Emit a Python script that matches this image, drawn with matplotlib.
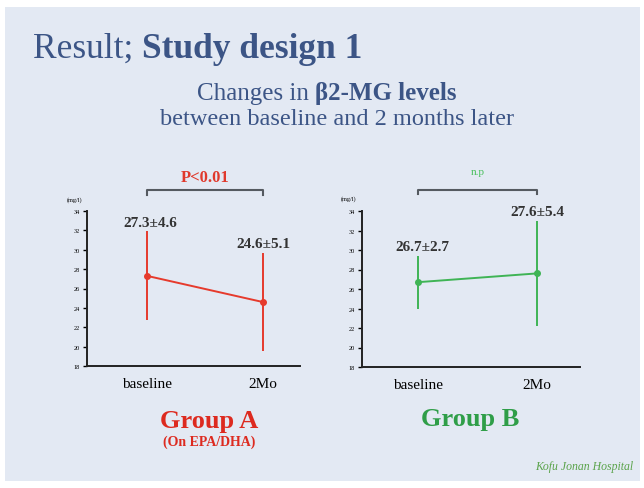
import matplotlib
matplotlib.use("Agg")
from matplotlib import pyplot as plt
from matplotlib.patches import Rectangle, Circle

plt.rcParams['font.family'] = ['Liberation Serif', 'DejaVu Serif']

# data
timepoints = ["baseline", "2Mo"]
groupA_mean = [27.3, 24.6]
groupA_sd = [4.6, 5.1]
groupB_mean = [26.7, 27.6]
groupB_sd = [2.7, 5.4]
yticks = [18, 20, 22, 24, 26, 28, 30, 32, 34]

W, H = 644, 489
fig = plt.figure(figsize=(W / 100, H / 100), dpi=100)
fig.patch.set_facecolor("white")

# slide background
fig.patches.append(Rectangle((5 / W, 1 - 482 / H), 635 / W, 474 / H,
                             transform=fig.transFigure, facecolor="#e3e9f3",
                             edgecolor="none", zorder=-10))
fig.patches.append(Circle((50 / W, 1 + 8 / H), 11 / W, transform=fig.transFigure,
                          facecolor="#d27ca8", edgecolor="none", zorder=-9))

title_col = "#3c5586"
red = "#e63a2c"
green = "#3fb455"


def px(x, y):
    return x / W, 1 - y / H


def chain(parts, x, y, ha="left", color="k", size=12):
    # draw several text pieces side by side, baseline aligned
    txts = []
    for s, w in parts:
        t = fig.text(*px(x, y), s, fontsize=size, weight=w, color=color,
                     ha="left", va="baseline")
        txts.append(t)
    fig.canvas.draw()
    r = fig.canvas.get_renderer()
    widths = [t.get_window_extent(r).width for t in txts]
    total = sum(widths)
    x0 = x - total / 2 if ha == "center" else x
    for t, w in zip(txts, widths):
        t.set_position(px(x0, y))
        x0 += w


chain([("Result; ", "normal"), ("Study design 1", "bold")], 33, 58,
      color=title_col, size=25.5)
chain([("Changes in ", "normal"), ("\u03b22-MG levels", "bold")], 327, 100,
      ha="center", color=title_col, size=18)
fig.text(*px(337, 125), "between baseline and 2 months later", fontsize=17.5,
         color=title_col, ha="center", va="baseline")


def panel(rect, means, sds, color, xlim, labels, lab_off, ptxt, pcol, psize, pw, pgap):
    ax = fig.add_axes(rect)
    ax.patch.set_alpha(0)
    x = range(len(means))
    ax.errorbar(x, means, yerr=sds, color=color, lw=1.4, marker="o", ms=4,
                elinewidth=1.4, capsize=0)
    ax.set_xlim(*xlim)
    ax.set_ylim(18, 34)
    ax.set_yticks(yticks)
    ax.set_yticklabels([str(v) for v in yticks], fontsize=4.5)
    ax.set_xticks(list(x))
    ax.set_xticklabels(labels, fontsize=11)
    ax.tick_params(axis="y", length=3, width=1, pad=2)
    ax.tick_params(axis="x", length=0, pad=8)
    for s in ["top", "right"]:
        ax.spines[s].set_visible(False)
    for s in ["left", "bottom"]:
        ax.spines[s].set_linewidth(1.4)
        ax.spines[s].set_color("#222222")
    ax.text(-0.06, 1.07, "(mg/l)", transform=ax.transAxes, fontsize=4.5,
            ha="center")
    for i, (m, sd) in enumerate(zip(means, sds)):
        dx, dy = lab_off[i]
        ax.annotate(f"{m}\u00b1{sd}", (i, m + sd), xytext=(dx, dy),
                    textcoords="offset points", ha="center", va="bottom",
                    fontsize=11, weight="bold", color="#333333")
    # significance bracket
    yb = 36.2
    ax.plot([0, 0, 1, 1], [yb - 0.5, yb, yb, yb - 0.5], color="#555a60",
            lw=1.5, clip_on=False)
    ax.text(0.5, yb + pgap, ptxt, color=pcol, fontsize=psize, weight=pw,
            ha="center", va="bottom")
    return ax


panel([87 / W, 1 - 367 / H, 213 / W, 155 / H], groupA_mean, groupA_sd, red,
      (-0.52, 1.32), timepoints, [(2, 2), (0, 2)], "P<0.01", "#e0392c", 12,
      "bold", 0.5)
panel([362 / W, 1 - 368 / H, 218 / W, 156 / H], groupB_mean, groupB_sd, green,
      (-0.47, 1.36), timepoints, [(3, 2), (0, 2)], "n.p", "#49c05c", 8,
      "normal", 1.4)

fig.text(*px(209, 428), "Group A", fontsize=19, weight="bold", color="#dd2a1f",
         ha="center", va="baseline")
fig.text(*px(209, 446), "(On EPA/DHA)", fontsize=10, weight="bold",
         color="#dd2a1f", ha="center", va="baseline")
fig.text(*px(470, 426), "Group B", fontsize=19, weight="bold", color="#2f9e48",
         ha="center", va="baseline")
fig.text(*px(633, 470), "Kofu Jonan Hospital", fontsize=8.5, style="italic",
         color="#5aa34a", ha="right", va="baseline")

fig.savefig("out.png", dpi=100, facecolor=fig.get_facecolor())
